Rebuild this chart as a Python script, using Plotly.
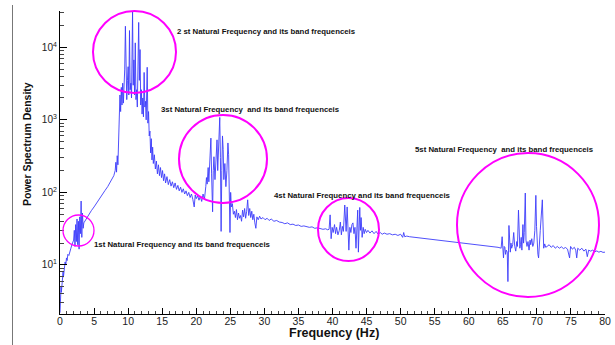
import plotly.graph_objects as go

# ---------------- data ----------------
freq = [
    0.0, 0.05, 0.1, 0.15, 0.2, 0.3, 0.35, 0.45, 0.5, 0.6, 0.65, 0.75, 0.85, 0.95, 1.05, 1.15, 1.3, 1.45, 1.6, 1.75, 1.9, 2.0,
    2.1, 2.2, 2.3, 2.4, 2.5, 2.6, 2.7, 2.8, 2.9, 3.0, 3.1, 3.2, 3.3, 3.4, 3.5,
    3.7, 4.0, 4.3, 4.6, 5.0, 5.3, 5.6, 6.0, 6.3, 6.6, 7.0, 7.3, 7.6, 7.9, 8.1, 8.2, 8.3, 8.4, 8.5, 8.6, 8.7,
    8.8, 8.9, 9.0, 9.1, 9.2, 9.3, 9.4, 9.5, 9.6, 9.7, 9.8, 9.9, 10.0, 10.1, 10.2, 10.3, 10.4, 10.5, 10.6, 10.65,
    10.75, 10.85, 10.95, 11.05, 11.15, 11.25, 11.35, 11.45, 11.55, 11.65, 11.75, 11.85, 11.95, 12.05, 12.15,
    12.25, 12.35, 12.45, 12.55, 12.65, 12.8, 12.9, 13.0,
    13.1, 13.2, 13.3, 13.4, 13.5, 13.6, 13.7, 13.85, 14.0, 14.15, 14.3, 14.45, 14.6, 14.75, 14.9, 15.05, 15.2,
    15.35, 15.5, 15.7, 15.9, 16.1, 16.3, 16.5, 16.7, 16.9, 17.1, 17.3, 17.5, 17.7, 17.9, 18.1, 18.3, 18.5, 18.7,
    18.9, 19.1, 19.3, 19.5, 19.7, 19.85, 20.0, 20.2, 20.4, 20.6, 20.8, 21.0, 21.2, 21.4, 21.5,
    21.6, 21.75, 21.85, 22.0, 22.15, 22.25, 22.4, 22.5, 22.6, 22.75, 22.9, 23.05, 23.15, 23.3, 23.45, 23.55,
    23.65, 23.75, 23.85, 23.95, 24.05, 24.2, 24.35, 24.5, 24.65, 24.75, 24.85, 24.95, 25.05, 25.15, 25.3, 25.45,
    25.6, 25.75, 25.9, 26.05, 26.2, 26.35, 26.5, 26.65, 26.8, 26.95, 27.1, 27.25, 27.4, 27.55, 27.7, 27.85, 28.0,
    28.15, 28.3, 28.45, 28.6, 28.75, 28.9, 29.1, 29.3, 29.5, 29.8, 30.1, 30.4, 30.7, 31.0, 31.4, 31.8, 32.2, 32.6,
    33.0, 33.4, 33.8, 34.2, 34.6, 35.0, 35.4, 35.8, 36.2, 36.6, 37.0, 37.4, 37.8, 38.2, 38.6, 39.0, 39.3,
    39.5, 39.65, 39.8, 39.95, 40.1, 40.3, 40.45, 40.6, 40.8, 41.0, 41.15, 41.3, 41.45, 41.6, 41.8, 41.9, 42.0,
    42.15, 42.25, 42.4, 42.55, 42.7, 42.85, 43.0, 43.15, 43.3, 43.45, 43.6, 43.7, 43.8, 43.9, 44.0, 44.1, 44.2,
    44.35, 44.5, 44.65, 44.8, 45.0,
    45.2, 45.5, 45.8, 46.1, 46.4, 46.7, 47.0, 47.3, 47.6, 48.0, 48.4, 48.8, 49.2, 49.6, 50.0, 50.3, 50.45, 50.6,
    50.9, 51.3, 51.8, 52.3, 52.8, 53.3, 53.8, 54.3, 54.8, 55.3, 55.8, 56.3, 56.8, 57.3, 57.8, 58.3, 58.8, 59.3,
    59.8, 60.3, 60.8, 61.3, 61.8, 62.3, 62.8, 63.3, 63.8, 64.3, 64.6,
    64.75, 64.9, 65.0, 65.1, 65.2, 65.3, 65.4, 65.5, 65.65, 65.75, 65.9, 66.0, 66.1, 66.2, 66.3, 66.45, 66.6,
    66.75, 66.9, 67.05, 67.15, 67.3, 67.4, 67.5, 67.6, 67.7, 67.8, 67.95, 68.05, 68.15, 68.3, 68.4, 68.55, 68.7,
    68.85, 69.0, 69.1, 69.25, 69.4, 69.55, 69.7, 69.85, 69.95, 70.05, 70.15, 70.25, 70.35, 70.5, 70.8, 70.9,
    71.0, 71.15, 71.3,
    71.5, 71.8, 72.1, 72.4, 72.7, 73.0, 73.3, 73.6, 73.9, 74.2, 74.5, 74.8, 74.95, 75.2, 75.5, 75.7, 75.85, 76.0,
    76.3, 76.6, 76.9, 77.2, 77.4, 77.6, 77.9, 78.2, 78.5, 78.8, 79.1, 79.4, 79.7, 80.0,
]

psd = [
    2.2, 3.5, 2.8, 5.0, 4.2, 6.5, 5.5, 8.0, 6.8, 9.5, 8.2, 11.0, 10.0, 12.5, 11.5, 14.0, 13.5, 16.0, 17.0, 19.0, 20.5, 22.0,
    30, 18, 36, 21, 43, 19, 40, 16.5, 46, 27, 76, 24, 52, 32, 38,
    41, 46, 50, 56, 63, 70, 77, 87, 96, 106, 120, 133, 150, 170, 200, 260, 190, 320, 240, 450, 900,
    2200, 1300, 2800, 1600, 3200, 1700, 2600, 5000, 19500, 2500, 1900, 3500, 5400, 2200, 17000, 2600, 3200, 2000, 9000, 31000,
    3000, 6700, 2200, 11500, 1900, 2600, 1500, 4000, 22000, 3500, 9300, 1600, 2600, 1200, 2000,
    1100, 4500, 1500, 1800, 1000, 5300, 900, 1300,
    600, 700, 350, 550, 280, 420, 250, 330, 210, 270, 180, 240, 170, 220, 160, 200, 145,
    180, 135, 165, 128, 150, 122, 140, 116, 135, 110, 125, 105, 118, 100, 112, 95, 105, 90,
    100, 85, 95, 80, 63, 92, 82, 90, 78, 88, 75, 95, 80, 120, 160,
    130, 220, 140, 300, 560, 180, 54, 200, 310, 150, 260, 530, 200, 400, 1080, 300,
    29, 200, 600, 390, 150, 250, 120, 200, 480, 330, 80, 28, 100, 63, 70, 50,
    55, 45, 58, 42, 52, 44, 48, 40, 57, 46, 60, 44, 55, 79, 48, 60, 45,
    55, 42, 50, 38, 32, 46, 42, 47, 43, 45, 42, 44, 41, 43, 40, 41, 39, 38.5,
    37, 38, 36, 36.5, 35, 35.5, 34, 34.5, 33.5, 33, 33.5, 32, 32.5, 31.5, 31, 31.5, 30.5,
    31, 49, 23, 33, 28, 36, 27, 33, 26, 30, 39, 26, 34, 29, 67, 35, 29,
    63, 38, 16, 33, 28, 36, 38, 27, 33, 17, 40, 57, 15, 36, 62, 30, 45,
    24, 33, 27, 31, 28,
    30, 27.5, 29.5, 27, 29, 26.5, 28, 26.5, 27.5, 26.5, 27, 26, 26.5, 25.5, 26.5, 24, 28, 24.5,
    25, 24.5, 24.2, 23.8, 23.5, 23.3, 22.8, 22.6, 22.2, 22, 21.6, 21.4, 21, 20.8, 20.5, 20.2, 20, 19.7,
    19.5, 19.2, 19, 18.8, 18.5, 18.3, 18.1, 17.9, 17.7, 17.5, 17.2,
    17, 24.5, 15, 12.5, 18, 17.5, 14, 16, 15, 5.9, 35, 19, 15, 20, 17, 19, 28,
    18, 15.5, 21, 18, 57, 22, 17, 19, 24, 16, 36, 20, 28, 98, 22, 18, 21,
    16, 22, 19, 23, 18, 20, 30, 91, 34, 19, 14, 12.5, 20, 30, 79, 21,
    17, 19.5, 17.5,
    18, 19, 17.5, 18.5, 17, 18, 17, 17.8, 16.8, 17.4, 16.5, 12.5, 18, 16.5, 17.5, 16, 12.5, 17,
    16, 17, 15.5, 16.5, 13, 16, 15.5, 16, 15.2, 15.6, 15, 15.4, 14.9, 15,
]

x_ticks = [0, 5, 10, 15, 20, 25, 30, 35, 40, 45, 50, 55, 60, 65, 70, 75, 80]
y_ticks = [10, 100, 1000, 10000]
y_tick_text = ["10<sup>1</sup>", "10<sup>2</sup>", "10<sup>3</sup>", "10<sup>4</sup>"]

labels = [
    "1st Natural Frequency and its band frequenceis",
    "2 st Natural Frequency and its band frequenceis",
    "3st Natural Frequency  and its band frequenceis",
    "4st Natural Frequency and its band frequenceis",
    "5st Natural Frequency  and its band frequenceis",
]

# ---------------- layout helpers (pixel -> paper) ----------------
W, H = 615, 345
L, R, T, B = 60, 605, 11, 314


def pxx(x):
    return (x - L) / (R - L)


def pxy(y):
    return (B - y) / (B - T)


FONT = "Liberation Sans, Arial, sans-serif"

fig = go.Figure()
fig.add_trace(go.Scatter(
    x=freq, y=psd, mode="lines",
    line=dict(color="rgb(60,60,250)", width=0.9),
    hoverinfo="skip", showlegend=False,
))

minor_y = [m * 10 ** k for k in range(0, 5) for m in range(2, 10)]

fig.update_layout(
    width=W, height=H, autosize=False,
    margin=dict(l=L, r=W - R, t=T, b=H - B, pad=0, autoexpand=False),
    paper_bgcolor="white", plot_bgcolor="white",
    font=dict(family=FONT, color="#222"),
    showlegend=False,
    xaxis=dict(
        range=[0, 80], showgrid=False, zeroline=False, automargin=False,
        showline=True, linecolor="black", linewidth=1.2,
        tickmode="array", tickvals=x_ticks,
        ticks="inside", ticklen=6, tickwidth=1, tickcolor="black",
        ticklabelstandoff=-3,
        minor=dict(dtick=1, ticks="inside", ticklen=3, tickcolor="#444", showgrid=False),
        tickfont=dict(size=10.5, family=FONT, color="#222"),
    ),
    yaxis=dict(
        type="log", range=[0.324, 4.5], showgrid=False, zeroline=False, automargin=False,
        showline=True, linecolor="black", linewidth=1.2,
        tickmode="array", tickvals=y_ticks, ticktext=y_tick_text,
        ticks="inside", ticklen=7, tickwidth=1, tickcolor="black",
        minor=dict(tickmode="array", tickvals=minor_y, ticks="inside", ticklen=4,
                   tickcolor="#444", showgrid=False),
        tickfont=dict(size=10, family=FONT, color="#222"),
    ),
)

# label positions (pixels: left x, middle y)
label_pos = [(91.5, 244), (175, 32), (159, 110), (271.5, 196), (413, 149)]
for txt, (lx, ly) in zip(labels, label_pos):
    fig.add_annotation(
        text=txt, xref="paper", yref="paper", x=pxx(lx), y=pxy(ly),
        xanchor="left", yanchor="middle", showarrow=False,
        font=dict(size=7.8, family=FONT, color="#111", weight="bold"),
    )

# axis titles
fig.add_annotation(
    text="<b>Frequency (Hz)</b>", xref="paper", yref="paper", x=pxx(334), y=pxy(333),
    xanchor="center", yanchor="middle", showarrow=False,
    font=dict(size=12.5, family=FONT, color="#111"),
)
fig.add_annotation(
    text="<b>Power Spectrum Density</b>", xref="paper", yref="paper", x=pxx(27), y=pxy(144),
    xanchor="center", yanchor="middle", showarrow=False, textangle=-90,
    font=dict(size=10.5, family=FONT, color="#111"),
)

# highlight circles (pixel bounding boxes)
circles = [((63, 215, 94, 246), 1.3), ((93, 11, 176, 93), 2), ((179, 115, 267, 203), 2),
           ((318, 198, 379, 261), 2), ((457, 153, 599, 297), 2)]
for (x0, y0, x1, y1), lw in circles:
    fig.add_shape(type="circle", xref="paper", yref="paper",
                  x0=pxx(x0), x1=pxx(x1), y0=pxy(y1), y1=pxy(y0),
                  line=dict(color="#ff00ff", width=lw))

# left frame line
fig.add_shape(type="line", xref="paper", yref="paper",
              x0=pxx(12.5), x1=pxx(12.5), y0=pxy(345), y1=pxy(5),
              line=dict(color="#777", width=1))

fig.write_html("out.html")
